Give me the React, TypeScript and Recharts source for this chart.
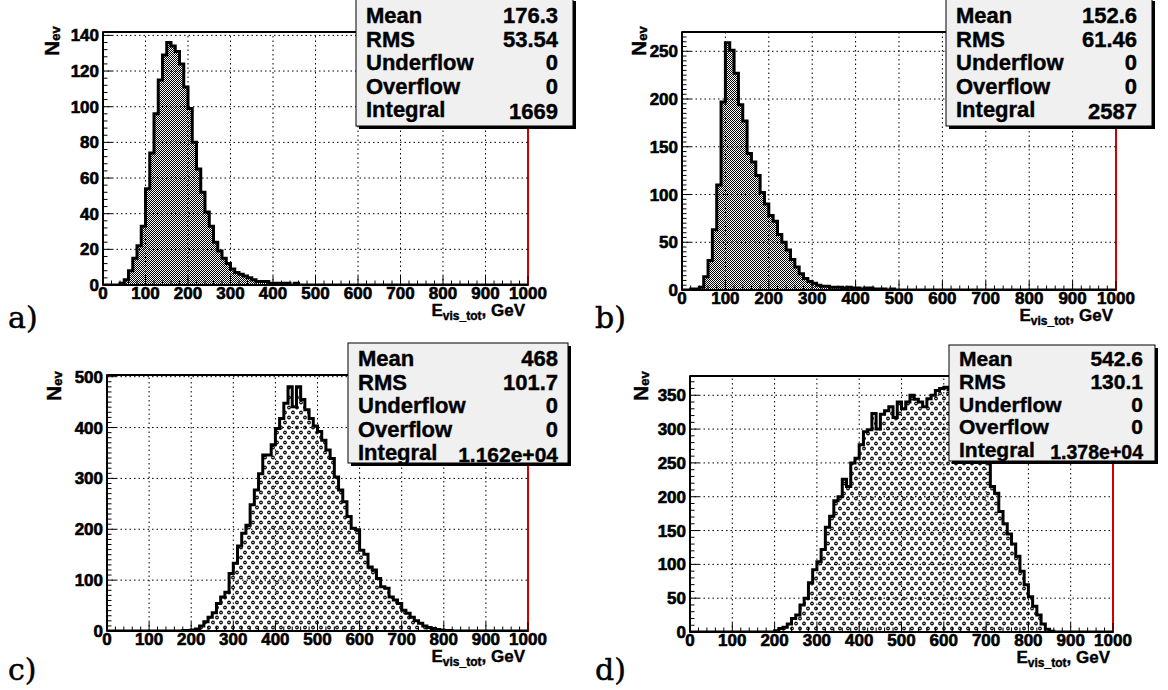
import React from 'react'
import { Area, ComposedChart, ReferenceArea, ReferenceLine, XAxis, YAxis } from 'recharts'

// histogram bins: 100 bins of 10 GeV from 0 to 1000
const BIN_WIDTH = 10
const X_MAX = 1000
const xMajorTicks = [0, 100, 200, 300, 400, 500, 600, 700, 800, 900, 1000]
const X_MINOR_STEP = 20

const countsA = [
  0, 0, 0, 0, 1, 3, 8, 15, 22, 33,
  54, 74, 96, 115, 129, 136, 134, 131, 124, 111,
  99, 80, 65, 52, 41, 33, 24, 19, 15, 12,
  9, 7, 6, 5, 4, 3, 2, 2, 2, 1,
  1, 1, 1, 1, 0, 1, 0, 0, 0, 0,
  0, 0, 0, 0, 0, 0, 0, 0, 0, 0,
  0, 0, 0, 0, 0, 0, 0, 0, 0, 0,
  0, 0, 0, 0, 0, 0, 0, 0, 0, 0,
  0, 0, 0, 0, 0, 0, 0, 0, 0, 0,
  0, 0, 0, 0, 0, 0, 0, 0, 0, 0,
]
const countsB = [
  0, 0, 1, 1, 3, 14, 31, 63, 110, 197,
  259, 251, 227, 194, 177, 143, 134, 120, 102, 90,
  78, 72, 58, 50, 42, 32, 24, 17, 12, 9,
  7, 5, 4, 4, 3, 3, 3, 2, 3, 2,
  2, 1, 2, 2, 1, 1, 1, 0, 1, 0,
  0, 0, 0, 0, 0, 0, 0, 0, 0, 0,
  0, 0, 0, 0, 0, 0, 0, 0, 0, 0,
  0, 0, 0, 0, 0, 0, 0, 0, 0, 0,
  0, 0, 0, 0, 0, 0, 0, 0, 0, 0,
  0, 0, 0, 0, 0, 0, 0, 0, 0, 0,
]
const countsC = [
  0, 0, 0, 0, 0, 0, 0, 0, 0, 0,
  0, 0, 0, 0, 0, 0, 0, 0, 1, 1,
  2, 4, 10, 18, 27, 36, 54, 67, 76, 113,
  133, 167, 192, 208, 248, 277, 309, 346, 346, 366,
  398, 418, 448, 480, 441, 480, 455, 435, 418, 403,
  392, 375, 356, 339, 303, 277, 254, 225, 202, 199,
  159, 151, 126, 120, 103, 87, 84, 67, 61, 54,
  41, 35, 27, 20, 15, 10, 7, 5, 3, 2,
  1, 1, 0, 0, 0, 0, 0, 0, 0, 0,
  0, 0, 0, 0, 0, 0, 0, 0, 0, 0,
]
const countsD = [
  0, 0, 0, 0, 0, 0, 0, 0, 0, 0,
  0, 0, 0, 0, 0, 0, 0, 0, 0, 0,
  2, 5, 7, 12, 20, 25, 40, 50, 73, 92,
  104, 122, 155, 171, 194, 200, 226, 215, 250, 257,
  277, 296, 299, 323, 300, 322, 327, 333, 317, 340,
  330, 340, 350, 344, 340, 333, 345, 350, 357, 360,
  362, 358, 352, 345, 338, 330, 318, 305, 290, 275,
  252, 215, 205, 178, 160, 145, 130, 112, 90, 70,
  52, 38, 25, 12, 4, 1, 0, 0, 0, 0,
  0, 0, 0, 0, 0, 0, 0, 0, 0, 0,
]

const yMajorA = [0, 20, 40, 60, 80, 100, 120, 140]
const yMajorB = [0, 50, 100, 150, 200, 250]
const yMajorC = [0, 100, 200, 300, 400, 500]
const yMajorD = [0, 50, 100, 150, 200, 250, 300, 350]

const statLabels = ['Mean', 'RMS', 'Underflow', 'Overflow', 'Integral']
const statsA = ['176.3', '53.54', '0', '0', '1669']
const statsB = ['152.6', '61.46', '0', '0', '2587']
const statsC = ['468', '101.7', '0', '0', '1.162e+04']
const statsD = ['542.6', '130.1', '0', '0', '1.378e+04']

const FONT = '"Liberation Sans", Arial, Helvetica, sans-serif'

const panels = [
  {
    id: 'a', counts: countsA, yMax: 141.9, yMajor: yMajorA, yMinorStep: 4, fill: 'chk',
    plot: { left: 103, top: 32, right: 528, bottom: 285 },
    box: { left: 356, top: -2, width: 217, height: 128, first: 25, step: 23.6, padR: 15, size: 22, lastSize: 22 },
    stats: statsA, letter: { x: 8, y: 328 }, ylab: { x: 52, y: 43 },
  },
  {
    id: 'b', counts: countsB, yMax: 270.2, yMajor: yMajorB, yMinorStep: 5, fill: 'chk',
    plot: { left: 682, top: 32, right: 1116, bottom: 290 },
    box: { left: 946, top: -2, width: 206, height: 128, first: 25, step: 23.6, padR: 15, size: 22, lastSize: 22 },
    stats: statsB, letter: { x: 595, y: 328 }, ylab: { x: 639, y: 43 },
  },
  {
    id: 'c', counts: countsC, yMax: 503.3, yMajor: yMajorC, yMinorStep: 10, fill: 'dots',
    plot: { left: 107, top: 375, right: 528, bottom: 631 },
    box: { left: 348, top: 343, width: 220, height: 120, first: 23, step: 23.5, padR: 10, size: 22, lastSize: 21 },
    stats: statsC, letter: { x: 8, y: 680 }, ylab: { x: 54, y: 388 },
  },
  {
    id: 'd', counts: countsD, yMax: 378.5, yMajor: yMajorD, yMinorStep: 10, fill: 'dots',
    plot: { left: 690, top: 376, right: 1113, bottom: 632 },
    box: { left: 949, top: 345, width: 206, height: 116, first: 21, step: 22.8, padR: 12, size: 21, lastSize: 19.5 },
    stats: statsD, letter: { x: 595, y: 680 }, ylab: { x: 641, y: 388 },
  },
]

function steps(max: number, step: number) {
  const out: number[] = []
  for (let v = 0; v <= max + 1e-6; v += step) out.push(Math.round(v * 100) / 100)
  return out
}

const labelStyle = { fontFamily: FONT, fontWeight: 700 }

function XTick(props: any) {
  const { x, y, payload } = props
  const major = xMajorTicks.includes(payload.value)
  return (
    <g>
      <line x1={x} x2={x} y1={y} y2={y - (major ? 9 : 4.5)} stroke="#000" strokeWidth={1} />
      {major && (
        <text x={x} y={y + 13.5} textAnchor="middle" style={labelStyle} fontSize={17} fill="#000" stroke="#000" strokeWidth={0.6}>
          {payload.value}
        </text>
      )}
    </g>
  )
}

function YTick(props: any) {
  const { x, y, payload, majors } = props
  const major = majors.includes(payload.value)
  return (
    <g>
      <line x1={x} x2={x + (major ? 9 : 4.5)} y1={y} y2={y} stroke="#000" strokeWidth={1} />
      {major && (
        <text x={x - 4} y={y + 6} textAnchor="end" style={labelStyle} fontSize={17} fill="#000" stroke="#000" strokeWidth={0.6}>
          {payload.value}
        </text>
      )}
    </g>
  )
}

function Panel({ p }: { p: (typeof panels)[number] }) {
  const data = p.counts.map((n, i) => ({ x: i * BIN_WIDTH, n })).concat([{ x: X_MAX, n: 0 }])
  const pw = p.plot.right - p.plot.left
  const ph = p.plot.bottom - p.plot.top
  const xTicks = steps(X_MAX, X_MINOR_STEP)
  const yTicks = steps(p.yMax, p.yMinorStep)
  const xGrid = xMajorTicks.filter((v) => v > 0 && v < X_MAX)
  const yGrid = p.yMajor.filter((v) => v > 0)
  return (
    <div style={{ position: 'absolute', left: p.plot.left - 100, top: p.plot.top - 30 }}>
      <ComposedChart width={pw + 140} height={ph + 80} data={data} margin={{ top: 30, right: 40, bottom: 20, left: 40 }}>
        <defs>
          <pattern id="fill-chk" width={2} height={2} patternUnits="userSpaceOnUse">
            <rect width={2} height={2} fill="#fff" />
            <rect x={0} y={0} width={1} height={1} fill="#000" />
            <rect x={1} y={1} width={1} height={1} fill="#000" />
          </pattern>
          <pattern id="fill-dots" width={8} height={10} patternUnits="userSpaceOnUse">
            <rect width={8} height={10} fill="#fff" />
            <circle cx={2} cy={2.5} r={1.3} fill="none" stroke="#000" strokeWidth={1.2} />
            <circle cx={6} cy={7.5} r={1.3} fill="none" stroke="#000" strokeWidth={1.2} />
          </pattern>
        </defs>
        <Area
          type="stepAfter"
          dataKey="n"
          stroke="#000"
          strokeWidth={3}
          fill={`url(#fill-${p.fill})`}
          fillOpacity={1}
          dot={false}
          activeDot={false}
          isAnimationActive={false}
        />
        {xGrid.map((v) => (
          <ReferenceLine key={`gx${v}`} x={v} stroke="#000" strokeWidth={1} strokeDasharray="1.5 3" />
        ))}
        {yGrid.map((v) => (
          <ReferenceLine key={`gy${v}`} y={v} stroke="#000" strokeWidth={1} strokeDasharray="1.5 3" />
        ))}
        <ReferenceArea x1={0} x2={X_MAX} y1={0} y2={p.yMax} fill="none" stroke="#d40000" strokeWidth={2} />
        <ReferenceLine y={p.yMax} stroke="#000" strokeWidth={2} />
        <XAxis
          type="number"
          dataKey="x"
          domain={[0, X_MAX]}
          ticks={xTicks}
          interval={0}
          height={30}
          tickSize={0}
          tickMargin={0}
          tickLine={false}
          axisLine={{ stroke: '#000', strokeWidth: 2 }}
          tick={(props: any) => <XTick {...props} />}
          allowDataOverflow
        />
        <YAxis
          type="number"
          domain={[0, p.yMax]}
          ticks={yTicks}
          interval={0}
          width={60}
          tickSize={0}
          tickMargin={0}
          tickLine={false}
          axisLine={{ stroke: '#000', strokeWidth: 2 }}
          tick={(props: any) => <YTick {...props} majors={p.yMajor} />}
          allowDataOverflow
        />
      </ComposedChart>
    </div>
  )
}

function Overlay() {
  return (
    <svg width={1168} height={690} style={{ position: 'absolute', left: 0, top: 0, pointerEvents: 'none' }}>
      {panels.map((p) => (
        <g key={p.id}>
          <text
            x={p.plot.right - 3}
            y={p.plot.bottom + 31}
            textAnchor="end"
            style={labelStyle}
            fontSize={17}
            fill="#000"
            stroke="#000"
            strokeWidth={0.4}
          >
            E<tspan fontSize={12} dy={4}>vis_tot</tspan>
            <tspan dy={-4}>, GeV</tspan>
          </text>
          <text
            transform={`translate(${p.ylab.x + 7},${p.ylab.y + 13}) rotate(-90)`}
            style={labelStyle}
            fontSize={21}
            fill="#000"
            stroke="#000"
            strokeWidth={0.4}
          >
            N<tspan fontSize={13} dy={1}>ev</tspan>
          </text>
          <text x={p.letter.x} y={p.letter.y} fontFamily='"DejaVu Serif", serif' fontSize={30} fill="#000" stroke="#000" strokeWidth={0.5}>
            {p.id})
          </text>
          <rect x={p.box.left + 3} y={p.box.top + 3} width={p.box.width} height={p.box.height} fill="#000" />
          <rect
            x={p.box.left}
            y={p.box.top}
            width={p.box.width}
            height={p.box.height}
            fill="#f0f0f0"
            stroke="#000"
            strokeWidth={1}
          />
          {statLabels.map((s, i) => (
            <text
              key={s}
              x={p.box.left + 10}
              y={p.box.top + p.box.first + i * p.box.step}
              style={labelStyle}
              fontSize={p.box.size}
              fill="#000"
              stroke="#000"
              strokeWidth={0.4}
            >
              {s}
            </text>
          ))}
          {p.stats.map((v, i) => {
            const last = i === p.stats.length - 1
            return (
              <text
                key={`v${i}`}
                x={p.box.left + p.box.width - p.box.padR}
                y={p.box.top + p.box.first + i * p.box.step + (last ? 2 : 0)}
                textAnchor="end"
                style={labelStyle}
                fontSize={last ? p.box.lastSize : p.box.size}
                fill="#000"
                stroke="#000"
                strokeWidth={0.4}
              >
                {v}
              </text>
            )
          })}
        </g>
      ))}
    </svg>
  )
}

export default function App() {
  return (
    <div style={{ position: 'absolute', left: 0, top: 0, width: 1168, height: 690, background: '#fff', overflow: 'hidden' }}>
      {panels.map((p) => (
        <Panel key={p.id} p={p} />
      ))}
      <Overlay />
    </div>
  )
}
